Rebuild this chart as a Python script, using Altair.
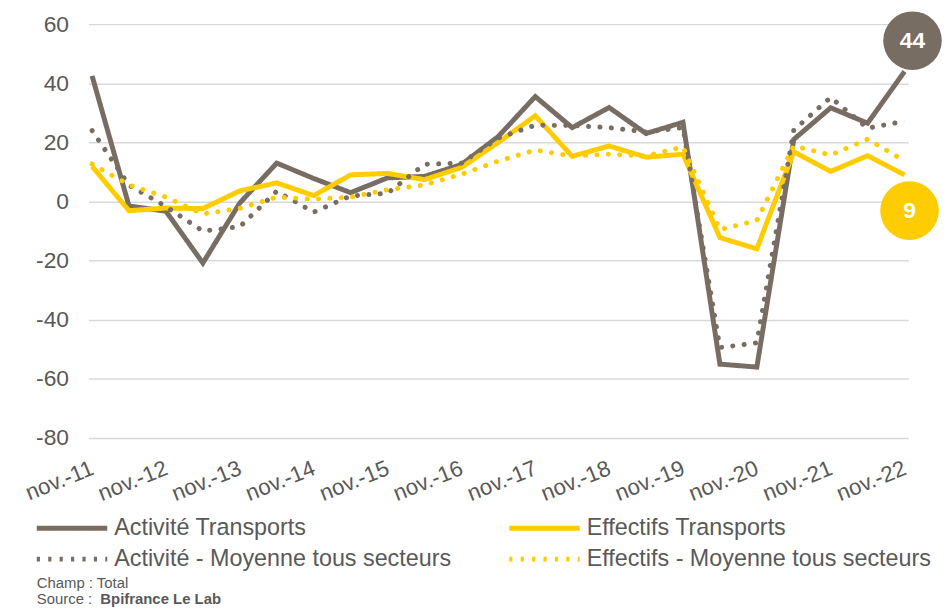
import altair as alt
import pandas as pd

FONT = "Liberation Sans, Arial, sans-serif"
GREY = "#786D63"
YELLOW = "#FFCC00"
TXT = "#595959"

periods = ["nov.-11", "mai-12", "nov.-12", "mai-13", "nov.-13", "mai-14", "nov.-14",
           "mai-15", "nov.-15", "mai-16", "nov.-16", "mai-17", "nov.-17", "mai-18",
           "nov.-18", "mai-19", "nov.-19", "mai-20", "nov.-20", "mai-21", "nov.-21",
           "mai-22", "nov.-22"]

activite_transports = [42.5, -1.5, -3.3, -20.8, -0.5, 13.0, 7.8, 3.0, 8.0, 8.5, 12.5, 22.0,
                       35.5, 25.0, 31.8, 23.0, 26.8, -55.0, -56.0, 21.0, 31.7, 26.5, 44.0]
effectifs_transports = [11.9, -3.1, -2.2, -2.4, 3.6, 6.3, 2.0, 9.0, 9.5, 7.4, 11.5, 20.0,
                        29.0, 15.3, 18.8, 15.0, 16.0, -12.2, -16.0, 16.8, 10.2, 15.5, 9.0]
activite_moyenne = [24.0, 5.5, -1.7, -10.0, -8.5, 3.5, -3.6, 1.9, 2.8, 12.6, 13.0, 21.5,
                    25.8, 25.7, 25.0, 23.5, 25.0, -49.4, -47.8, 24.2, 35.2, 24.8, 27.2]
effectifs_moyenne = [12.7, 5.6, 1.5, -4.2, -2.3, 1.5, 0.8, 1.5, 4.0, 5.6, 9.2, 13.7,
                     17.4, 15.4, 16.0, 15.4, 18.5, -9.5, -6.4, 18.8, 15.7, 21.1, 13.7]

AT = "Activité Transports"
ET = "Effectifs Transports"
AM = "Activité - Moyenne tous secteurs"
EM = "Effectifs - Moyenne tous secteurs"
# legend order (filled column by column)
legend_order = [AT, AM, ET, EM]
note_champ = "Champ : Total"
note_source = "Source : "
note_source_bold = "Bpifrance Le Lab"

rows = []
for name, vals in [(AT, activite_transports), (ET, effectifs_transports),
                   (AM, activite_moyenne), (EM, effectifs_moyenne)]:
    for p, v in zip(periods, vals):
        rows.append({"period": p, "series": name, "v": v})
df = pd.DataFrame(rows)

x = alt.X("period:O",
          scale=alt.Scale(type="point", domain=periods, padding=0.1),
          axis=alt.Axis(title=None,
                        labelExpr="substring(datum.label, 0, 3) == 'nov' ? datum.label : ''",
                        labelAngle=338, labelAlign="right", labelBaseline="top",
                        labelPadding=19, labelOffset=-4, labelFontSize=22.5,
                        labelColor=TXT, labelFont=FONT,
                        domain=False, ticks=False, grid=False, labelOverlap=False))
y = alt.Y("v:Q",
          scale=alt.Scale(domain=[-80, 60], nice=False, zero=False),
          axis=alt.Axis(title=None, values=list(range(-80, 61, 20)), domain=False,
                        labelExpr="'' + datum.value",
                        ticks=False, tickSize=0, labelPadding=20, labelFontSize=23,
                        labelColor=TXT, labelFont=FONT, gridColor="#D9D9D9", gridWidth=1.5))

# line symbol drawn from the symbol centre to the right (71 px long at size 400)
legend = alt.Legend(title=None, orient="none", legendX=-64.5, legendY=495.5, columns=2,
                    symbolType="M0,0H7.1", symbolSize=400, symbolStrokeWidth=5,
                    labelFontSize=23.5, labelColor=TXT, labelFont=FONT, labelOffset=65.5,
                    labelLimit=600, columnPadding=45, rowPadding=7, padding=0)

color = alt.Color("series:N", scale=alt.Scale(domain=legend_order,
                                              range=[GREY, GREY, YELLOW, YELLOW]),
                  legend=legend)
dash = alt.StrokeDash("series:N", scale=alt.Scale(domain=legend_order,
                                                  range=[[1, 0], [3.2, 8.3], [1, 0], [3.2, 8.3]]),
                      legend=legend)

base = alt.Chart(df)

solid = base.transform_filter(
    alt.FieldOneOfPredicate(field="series", oneOf=[AT, ET])
).mark_line(strokeWidth=5, strokeJoin="miter").encode(x=x, y=y, color=color, strokeDash=dash)

squares = base.transform_filter(
    alt.FieldOneOfPredicate(field="series", oneOf=[AM, EM])
).mark_line(strokeWidth=3.2, strokeDashOffset=1.6).encode(x=x, y=y, color=color, strokeDash=dash)

dots_grey = base.transform_filter(
    alt.datum.series == AM
).mark_line(strokeWidth=5, strokeCap="round", strokeDash=[0.1, 11.4], color=GREY).encode(x=x, y=y)

dots_yellow = base.transform_filter(
    alt.datum.series == EM
).mark_line(strokeWidth=5, strokeCap="round", strokeDash=[0.1, 11.4], color=YELLOW).encode(x=x, y=y)

last = base.transform_filter(alt.datum.period == periods[-1])
last_grey = last.transform_filter(alt.datum.series == AT)
last_yellow = last.transform_filter(alt.datum.series == ET)

CSIZE = 3481
circ_grey = last_grey.mark_circle(size=CSIZE, opacity=1, color=GREY,
                                  xOffset=8, yOffset=-31).encode(x=x, y=y)
txt_grey = last_grey.mark_text(color="white", fontSize=23, fontWeight="bold", font=FONT,
                               xOffset=8, yOffset=-31).encode(
    x=x, y=y, text=alt.Text("v:Q", format=".0f"))
circ_yellow = last_yellow.mark_circle(size=CSIZE, opacity=1, color=YELLOW,
                                      xOffset=5, yOffset=36).encode(x=x, y=y)
txt_yellow = last_yellow.mark_text(color="white", fontSize=23, fontWeight="bold", font=FONT,
                                   xOffset=5, yOffset=36).encode(
    x=x, y=y, text=alt.Text("v:Q", format=".0f"))

champ = alt.Chart(pd.DataFrame({"t": [note_champ]})).mark_text(
    align="left", baseline="middle", fontSize=15, font=FONT, color=TXT).encode(
    x=alt.value(-52), y=alt.value(563.5), text="t:N")
src = alt.Chart(pd.DataFrame({"t": [note_source]})).mark_text(
    align="left", baseline="middle", fontSize=15, font=FONT, color=TXT).encode(
    x=alt.value(-52), y=alt.value(579), text="t:N")
src_b = alt.Chart(pd.DataFrame({"t": [note_source_bold]})).mark_text(
    align="left", baseline="middle", fontSize=15, font=FONT, color=TXT,
    fontWeight="bold").encode(x=alt.value(12), y=alt.value(579), text="t:N")

chart = alt.layer(solid, squares, dots_grey, dots_yellow, circ_grey, txt_grey,
                  circ_yellow, txt_yellow, champ, src, src_b).properties(
    width=826, height=417,
    padding={"left": 81, "top": 14, "right": 34, "bottom": 170},
    autosize=alt.AutoSizeParams(type="none"),
    background="white",
).configure_view(stroke=None)

chart.save("out.html", embed_options={"renderer": "svg", "actions": False})
